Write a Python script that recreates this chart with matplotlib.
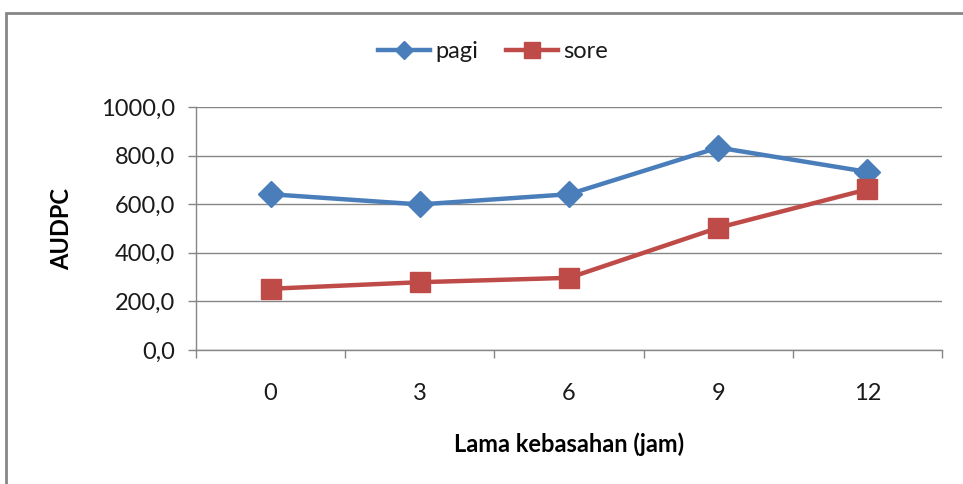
import matplotlib
matplotlib.use("Agg")
import matplotlib.pyplot as plt
from matplotlib.lines import Line2D
from matplotlib.patches import Rectangle

# data
jam = ["0", "3", "6", "9", "12"]
pagi = [641, 599, 641, 833, 733]
sore = [252, 279, 297, 503, 661]

biru = "#4A7EBB"
merah = "#BE4B48"
abu = "#868686"

plt.rcParams["font.family"] = ["Lato", "DejaVu Sans"]
fs = 17

fig = plt.figure(figsize=(9.63, 4.84), dpi=100)
ax = fig.add_axes([196/963, 1-350/484, (942-196)/963, (350-107)/484])

x = list(range(len(jam)))
ax.plot(x, pagi, color=biru, lw=3.2, marker="D", ms=13, label="pagi", solid_joinstyle="round")
ax.plot(x, sore, color=merah, lw=3.2, marker="s", ms=14, label="sore")

ax.set_xlim(-0.5, len(jam)-0.5)
ax.set_ylim(0, 1000)
ax.set_yticks(range(0, 1001, 200))
ax.set_yticklabels([f"{v},0" for v in range(0, 1001, 200)])
ax.yaxis.grid(True, color=abu, lw=1)
ax.set_axisbelow(True)

ax.set_xticks(x)
ax.set_xticklabels(jam)
ax.set_xticks([i-0.5 for i in range(len(jam)+1)], minor=True)
ax.tick_params(axis="x", which="major", length=0, pad=24, labelsize=fs, colors="#1a1a1a")
ax.tick_params(axis="x", which="minor", length=6, color=abu, width=1)
ax.tick_params(axis="y", length=6, color=abu, width=1, pad=9, labelsize=fs, labelcolor="#1a1a1a")

for s in ["top", "right"]:
    ax.spines[s].set_visible(False)
for s in ["left", "bottom"]:
    ax.spines[s].set_color(abu)
    ax.spines[s].set_linewidth(1)

ax.set_ylabel("AUDPC", fontsize=fs, fontweight="bold", labelpad=20)
ax.set_xlabel("Lama kebasahan (jam)", fontsize=fs, fontweight="bold", labelpad=20)

handles = [Line2D([], [], color=biru, lw=3.2, marker="D", ms=9),
           Line2D([], [], color=merah, lw=3.2, marker="s", ms=11)]
fig.legend(handles, ["pagi", "sore"], loc="center", bbox_to_anchor=(493/963, 1-52/484),
           ncol=2, frameon=False, fontsize=fs, handlelength=2.2, handletextpad=0.2,
           columnspacing=1.2, labelcolor="#1a1a1a")

# outer chart frame (cut off at right and bottom)
fig.patches.append(Rectangle((6/963, -0.1), 2, 1.1-13/484, transform=fig.transFigure,
                             fill=False, edgecolor=abu, lw=2))

fig.savefig("out.png", dpi=100)
